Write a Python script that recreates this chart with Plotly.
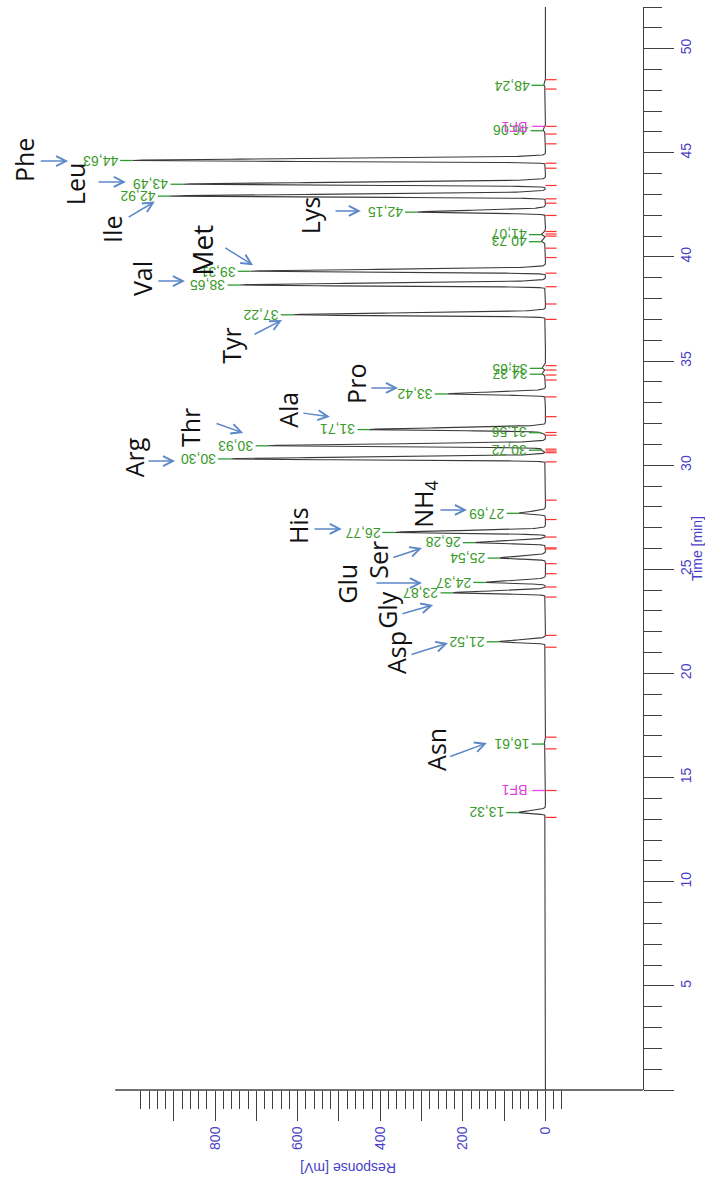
import numpy as np
import plotly.graph_objects as go

# ---- chromatogram data -------------------------------------------------
# retention times (min) and apex responses (mV)
ret_times = [13.32, 16.61, 21.52, 23.87, 24.37, 25.54, 26.28, 26.77, 27.69,
             30.30, 30.72, 30.93, 31.56, 31.71, 33.42, 34.37, 34.65, 37.22,
             38.65, 39.31, 40.73, 41.07, 42.15, 42.92, 43.49, 44.63, 46.06,
             48.24]
responses = [65, 3, 112, 224, 145, 110, 170, 365, 64,
             763, 10, 672, 10, 425, 238, 8, 8, 611,
             740, 715, 10, 10, 310, 909, 878, 1000, 6,
             4]

# integration start / end markers (min)
integ_marks = [13.09, 14.38, 16.38, 16.94, 21.26, 21.83, 23.67, 24.15, 24.79,
               25.27, 25.98, 26.03, 26.55, 27.39, 28.32, 30.16, 30.60, 30.68,
               30.77, 31.44, 31.57, 32.33, 33.28, 34.09, 34.33, 34.57, 34.78,
               37.00, 37.74, 38.57, 39.22, 39.97, 40.42, 41.00, 41.10, 41.22,
               41.99, 42.58, 42.79, 43.43, 44.26, 44.50, 45.43, 45.90, 46.27,
               48.06, 48.51]

# baseline-flag events (min)
bf_times = [14.38, 46.27]
bf_labels = ["BF1", "BF1"]

# amino-acid identification labels
amino_names = ["Phe", "Leu", "Ile", "Met", "Val", "Tyr", "Lys", "Arg", "Thr",
               "Ala", "Pro", "NH<sub>4</sub>", "His", "Ser", "Glu", "Gly",
               "Asp", "Asn"]

# axis ticks
resp_ticks = [0, 100, 200, 300, 400, 500, 600, 700, 800, 900]
resp_tick_labels = ["0", "", "200", "", "400", "", "600", "", "800", ""]
resp_minor = [v for v in range(-40, 981, 20) if v % 100 != 0]
time_ticks = [0, 5, 10, 15, 20, 25, 30, 35, 40, 45, 50]
time_tick_labels = ["", "5", "10", "15", "20", "25", "30", "35", "40", "45", "50"]

# ---- label / arrow placement (response mV, time min) --------------------
name_pos = [(1263, 44.65), (1139, 43.50), (1050, 41.34), (832, 40.34),
            (977, 38.94), (762, 35.77), (570, 42.01), (996, 30.39),
            (861, 31.83), (624, 32.65), (459, 33.90), (292, 28.14),
            (599, 27.08), (406, 25.45), (481, 24.30), (384, 23.05),
            (362, 21.03), (265, 16.33)]
# arrow tail -> head
arrow_pos = [((1226, 44.60), (1156, 44.60)), ((1086, 43.60), (1016, 43.60)),
             ((1013, 41.87), (946, 42.66)), ((779, 40.48), (708, 39.60)),
             ((941, 38.84), (873, 38.84)), ((708, 36.25), (638, 36.97)),
             ((512, 42.21), (447, 42.21)), ((965, 30.20), (897, 30.20)),
             ((800, 32.03), (732, 31.55)), ((590, 32.51), (522, 32.32)),
             ((425, 33.71), (357, 33.71)), ((258, 27.85), (190, 27.85)),
             ((563, 26.94), (493, 26.94)), ((372, 25.54), (299, 26.02)),
             ((413, 24.34), (299, 24.34)), ((350, 22.85), (272, 23.29)),
             ((328, 20.89), (236, 21.46)), ((234, 15.99), (142, 16.66))]

# ---- build the trace ----------------------------------------------------
SIG_L, SIG_R = 0.045, 0.085          # front / tail width of each peak (min)
t = np.union1d(np.arange(0.0, 52.0001, 0.004), np.array(ret_times))
signal = np.zeros_like(t)
for t0, h in zip(ret_times, responses):
    s = np.where(t < t0, SIG_L, SIG_R)
    signal += h * np.exp(-0.5 * ((t - t0) / s) ** 2)

fig = go.Figure()
fig.add_trace(go.Scatter(x=signal, y=t, mode="lines",
                         line=dict(color="#3a3a3a", width=1.1),
                         hoverinfo="skip"))

# integration markers
mx, my = [], []
for m in integ_marks:
    mx += [0, -27, None]
    my += [m, m, None]
fig.add_trace(go.Scatter(x=mx, y=my, mode="lines",
                         line=dict(color="#ff3030", width=1.2), hoverinfo="skip"))

# green apex leaders
LEAD = 30
gx, gy = [], []
for t0, h in zip(ret_times, responses):
    gx += [h, h + LEAD, None]
    gy += [t0, t0, None]
fig.add_trace(go.Scatter(x=gx, y=gy, mode="lines",
                         line=dict(color="#2f9a2f", width=1.3), hoverinfo="skip"))

# BF leaders
bx, by = [], []
for b in bf_times:
    bx += [0, 32, None]
    by += [b, b, None]
fig.add_trace(go.Scatter(x=bx, y=by, mode="lines",
                         line=dict(color="#e646e6", width=1.3), hoverinfo="skip"))

annotations = []
for t0, h in zip(ret_times, responses):
    annotations.append(dict(
        x=h + LEAD, y=t0, xref="x", yref="y", showarrow=False,
        text=f"{t0:.2f}".replace(".", ","), textangle=180,
        xanchor="right", yanchor="middle",
        font=dict(family="Liberation Sans, Arial", size=14, color="#3a9a2a")))
for b, lab in zip(bf_times, bf_labels):
    annotations.append(dict(
        x=38, y=b, xref="x", yref="y", showarrow=False, text=lab,
        textangle=180, xanchor="right", yanchor="middle",
        font=dict(family="Liberation Sans, Arial", size=14, color="#e040e0")))
for name, (rx, ty) in zip(amino_names, name_pos):
    annotations.append(dict(
        x=rx, y=ty, xref="x", yref="y", showarrow=False, text=name,
        textangle=-90, xanchor="center", yanchor="middle",
        font=dict(family="Open Sans", size=28 if name == "Met" else 25,
                  color="#111111")))
for (tail, head) in arrow_pos:
    annotations.append(dict(
        x=head[0], y=head[1], ax=tail[0], ay=tail[1],
        xref="x", yref="y", axref="x", ayref="y",
        text="", showarrow=True, arrowhead=5, arrowsize=1.3,
        arrowwidth=1.5, arrowcolor="#5c88c8", standoff=0, startstandoff=0))
annotations.append(dict(
    x=0.517, y=-0.072, xref="paper", yref="paper", showarrow=False,
    text="Response [mV]", textangle=180, xanchor="center", yanchor="middle",
    font=dict(family="Liberation Sans, Arial", size=14, color="#4a3fc8")))

AX_COL = "#404040"
TICK_FONT = dict(family="Liberation Sans, Arial", size=14, color="#4a3fc8")
TIME_AXIS_POS = 0.9554

fig.update_layout(
    width=705, height=1182,
    margin=dict(l=0, r=32, t=7, b=92, autoexpand=False),
    plot_bgcolor="white", paper_bgcolor="white", showlegend=False,
    annotations=annotations,
    shapes=[dict(type="line", xref="x", yref="paper", x0=1042, x1=-236,
                 y0=0, y1=0, line=dict(color=AX_COL, width=1.4))],
    xaxis=dict(range=[1321, -309], showgrid=False, zeroline=False,
               showline=False, ticks="outside", ticklen=30, tickwidth=1.3,
               tickcolor=AX_COL, tickmode="array", tickvals=resp_ticks,
               ticktext=resp_tick_labels, tickangle=-90, tickfont=TICK_FONT,
               minor=dict(tickmode="array", tickvals=resp_minor, ticks="outside",
                          ticklen=18, tickwidth=1.3, tickcolor=AX_COL),
               automargin=False),
    yaxis=dict(range=[0, 52], anchor="free", position=TIME_AXIS_POS,
               side="right", showgrid=False, zeroline=False, showline=True,
               linecolor=AX_COL, linewidth=1.4, ticks="outside", ticklen=30,
               tickwidth=1.3, tickcolor=AX_COL, tickmode="array",
               tickvals=time_ticks, ticktext=time_tick_labels, tickangle=-90,
               tickfont=TICK_FONT,
               minor=dict(dtick=1, ticks="outside", ticklen=18, tickwidth=1.3,
                          tickcolor=AX_COL),
               title=dict(text="Time [min]", font=TICK_FONT, standoff=2),
               automargin=False),
)

fig.write_html("out.html")
